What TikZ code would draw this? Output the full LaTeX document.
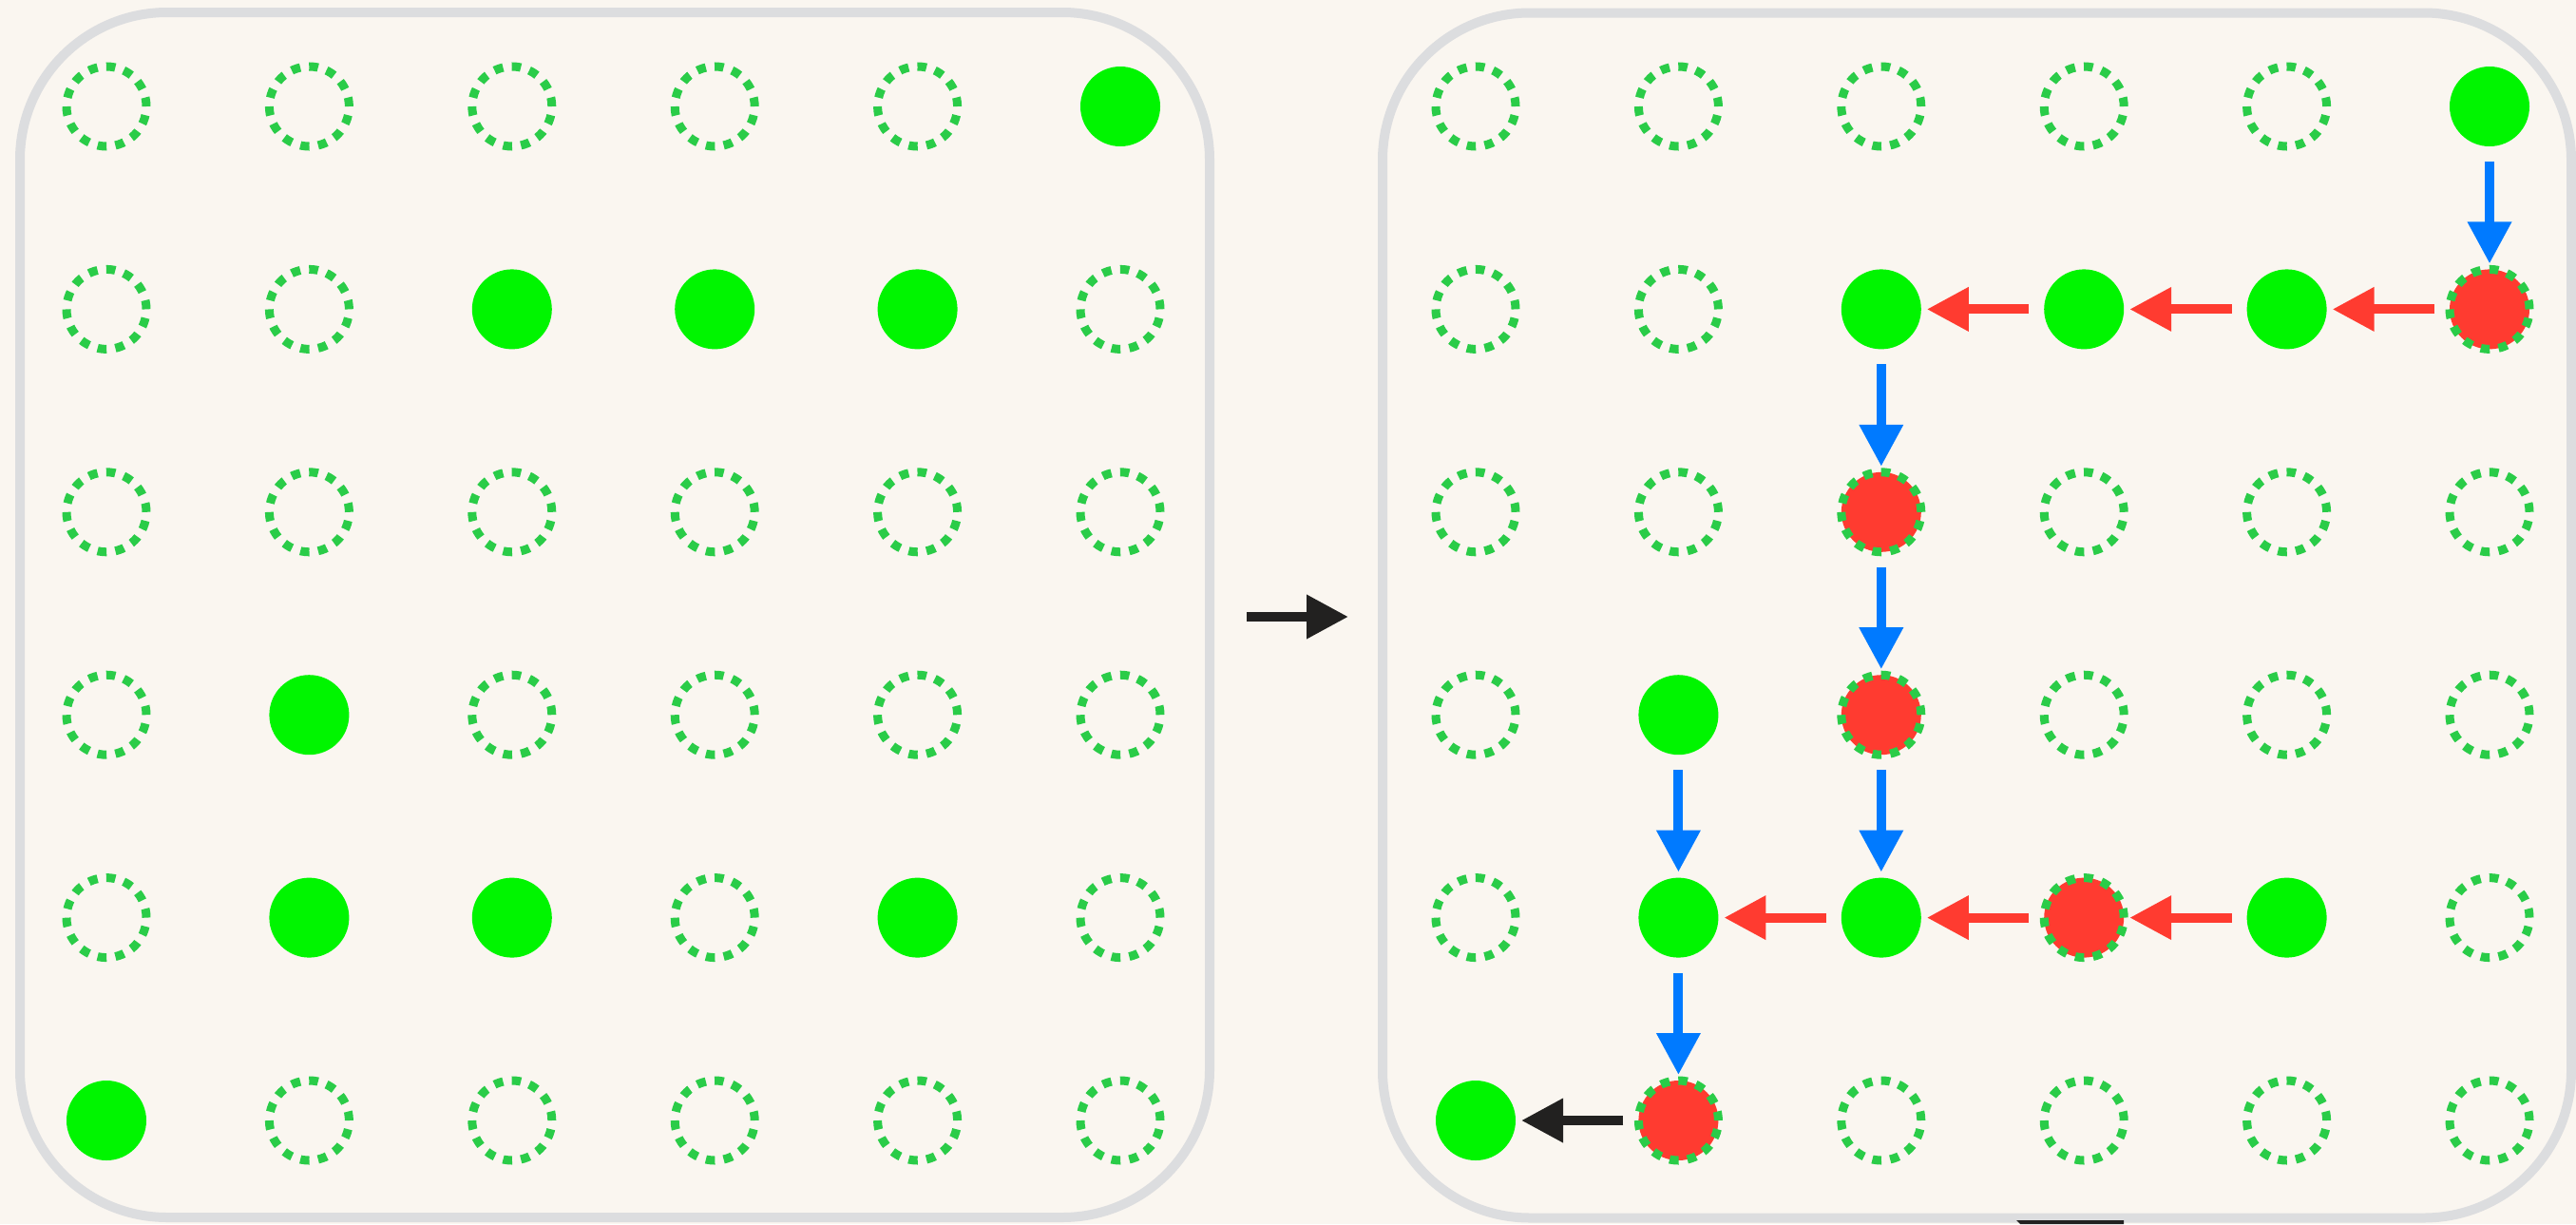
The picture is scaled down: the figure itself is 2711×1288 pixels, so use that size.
\documentclass[tikz,border=0pt]{standalone}
\usetikzlibrary{arrows.meta}
\definecolor{bg}{HTML}{FAF6F0}
\definecolor{framec}{HTML}{DCDDDF}
\definecolor{gfill}{HTML}{00F500}
\definecolor{gdash}{HTML}{2ACC48}
\definecolor{rfill}{HTML}{FF3B30}
\definecolor{barr}{HTML}{007AFF}
\definecolor{karr}{HTML}{222120}
\tikzset{
 ste/.style={circle, inner sep=0pt, outer sep=0pt, minimum size=84pt, draw=gdash, line width=9pt, dash pattern=on 9.5pt off 9.35pt},
 stg/.style={circle, inner sep=0pt, outer sep=0pt, minimum size=84pt, fill=gfill},
 str/.style={ste, fill=rfill},
 panel/.style={draw=framec, line width=10pt, rounded corners=155pt, minimum height=1268pt, inner sep=0pt, outer sep=0pt},
 conn/.style={line width=10pt, -{Triangle[length=44pt,width=44pt]}, shorten <=16pt, shorten >=6pt},
 bluedown/.style={conn, draw=barr},
 redleft/.style={conn, draw=rfill},
 blackleft/.style={conn, draw=karr},
}
\begin{document}
\begin{tikzpicture}[x=1pt,y=-1pt]
\useasboundingbox (0,0) rectangle (2711,1288);
\fill[bg] (0,0) rectangle (2711,1288);
\node[panel, minimum width=1252pt] (Lp) at (647,647) {};
\node[panel, minimum width=1251pt] (Rp) at (2080.5,647.5) {};
% left grid
\foreach \r/\row in {1/{e,e,e,e,e,g},2/{e,e,g,g,g,e},3/{e,e,e,e,e,e},4/{e,g,e,e,e,e},5/{e,g,g,e,g,e},6/{g,e,e,e,e,e}}{
  \foreach \s [count=\c] in \row {
    \node[st\s] (L\r\c) at ({112+(\c-1)*213.4},{112+(\r-1)*213.4}) {};
  }
}
% right grid
\foreach \r/\row in {1/{e,e,e,e,e,g},2/{e,e,g,g,g,r},3/{e,e,r,e,e,e},4/{e,g,r,e,e,e},5/{e,g,g,r,g,e},6/{g,r,e,e,e,e}}{
  \foreach \s [count=\c] in \row {
    \node[st\s] (R\r\c) at ({1553+(\c-1)*213.4},{112+(\r-1)*213.4}) {};
  }
}
% blue arrows (down)
\draw[bluedown] (R16) -- (R26);
\draw[bluedown] (R23) -- (R33);
\draw[bluedown] (R33) -- (R43);
\draw[bluedown] (R43) -- (R53);
\draw[bluedown] (R42) -- (R52);
\draw[bluedown] (R52) -- (R62);
% red arrows (left)
\draw[redleft] (R26) -- (R25);
\draw[redleft] (R25) -- (R24);
\draw[redleft] (R24) -- (R23);
\draw[redleft] (R55) -- (R54);
\draw[redleft] (R54) -- (R53);
\draw[redleft] (R53) -- (R52);
% black arrow
\draw[blackleft] (R62) -- (R61);
% middle arrow between panels
\draw[blackleft, shorten <=39pt, shorten >=36pt] ([yshift=-2pt]Lp.east) -- ([yshift=-1.5pt]Rp.west);
% partial mark at bottom edge
\fill[karr] (2122,1284) -- (2235,1284) -- (2235,1288) -- (2126,1288) -- cycle;
\end{tikzpicture}
\end{document}
